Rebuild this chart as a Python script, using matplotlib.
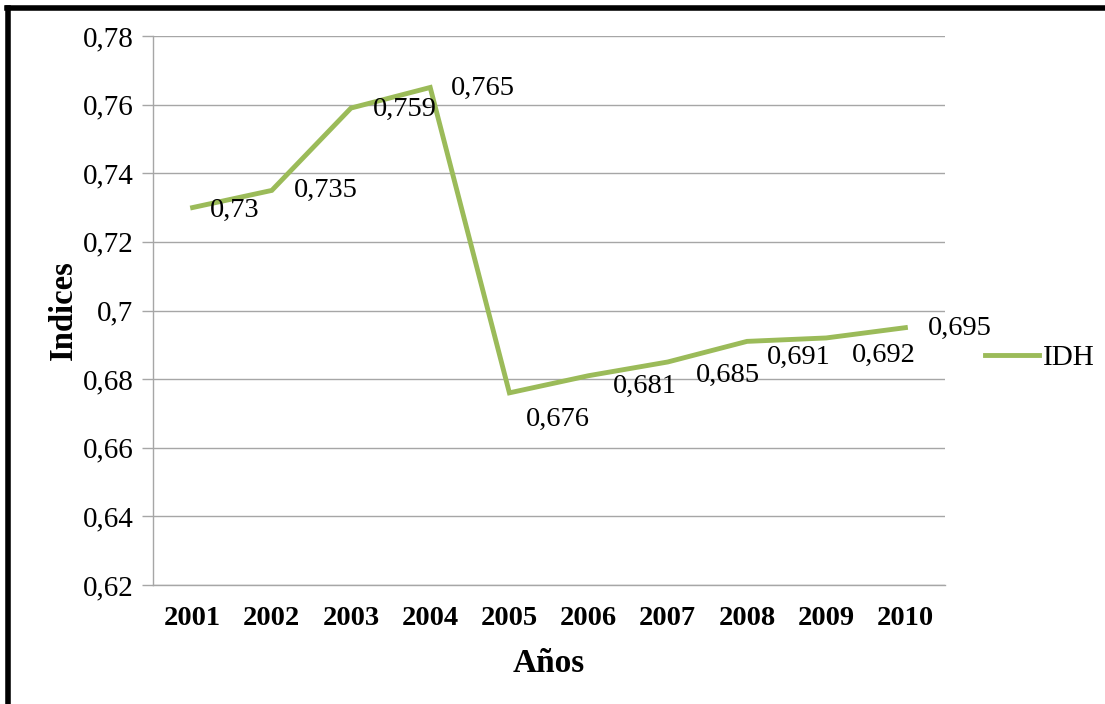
import matplotlib
matplotlib.use("Agg")
import matplotlib.pyplot as plt
from matplotlib.lines import Line2D

years = ["2001", "2002", "2003", "2004", "2005", "2006", "2007", "2008", "2009", "2010"]
idh = [0.73, 0.735, 0.759, 0.765, 0.676, 0.681, 0.685, 0.691, 0.692, 0.695]
label_text = ["0,73", "0,735", "0,759", "0,765", "0,676", "0,681", "0,685", "0,691", "0,692", "0,695"]
yticks = [0.62, 0.64, 0.66, 0.68, 0.70, 0.72, 0.74, 0.76, 0.78]
ytick_labels = ["0,62", "0,64", "0,66", "0,68", "0,7", "0,72", "0,74", "0,76", "0,78"]

# label offsets in pixels (dx, dy), dy positive = downwards
label_offsets = [(17, 3), (22, 0), (22, 1), (21, 1), (16, 27), (24, 11), (28, 13), (20, 16), (26, 17), (22, 1)]

plt.rcParams['font.family'] = ['Liberation Serif', 'DejaVu Serif']

W, H = 1105, 704
fig = plt.figure(figsize=(W / 100, H / 100), dpi=100)
fig.patch.set_facecolor("white")

ax = fig.add_axes([153 / W, 1 - 585 / H, (945 - 153) / W, (585 - 36) / H])
x = list(range(len(years)))
green = "#9BBB59"
grid_c = "#A6A6A6"
ax.plot(x, idh, color=green, lw=3.5, solid_joinstyle="miter", label="IDH", zorder=3)
ax.set_xlim(-0.5, len(years) - 0.5)
ax.set_ylim(0.62, 0.78)
ax.set_yticks(yticks)
ax.set_yticklabels(ytick_labels, fontsize=21)
ax.set_xticks(x)
ax.set_xticklabels(years, fontsize=20.5, fontweight="bold")
ax.tick_params(axis="x", length=0, pad=15)
ax.tick_params(axis="y", length=8, color=grid_c, width=1, pad=6)
ax.grid(axis="y", color=grid_c, lw=1)
ax.set_axisbelow(True)
for s in ["top", "right"]:
    ax.spines[s].set_visible(False)
for s in ["left", "bottom"]:
    ax.spines[s].set_color(grid_c)
    ax.spines[s].set_linewidth(1)

for xi, v, t, (dx, dy) in zip(x, idh, label_text, label_offsets):
    ax.annotate(t, (xi, v), xytext=(dx * 0.72, -dy * 0.72), textcoords="offset points",
                ha="left", va="center", fontsize=20.5)

ax.set_ylabel("Indices", fontsize=23.5, fontweight="bold", labelpad=3)
ax.set_xlabel("Años", fontsize=24, fontweight="bold", labelpad=12)

leg = fig.legend(handles=[Line2D([0], [0], color=green, lw=3.5)], labels=["IDH"],
                 loc="center left", bbox_to_anchor=(985 / W, 1 - 358 / H),
                 frameon=False, fontsize=21, handlelength=1.85, handletextpad=0.15,
                 borderpad=0, borderaxespad=0)

# frame border (top and left)
fig.add_artist(Line2D([7 / W, 1], [1 - 7.5 / H, 1 - 7.5 / H], color="black", lw=4, transform=fig.transFigure))
fig.add_artist(Line2D([7.5 / W, 7.5 / W], [0, 1 - 7.5 / H], color="black", lw=4, transform=fig.transFigure))

fig.savefig("out.png", dpi=100)
